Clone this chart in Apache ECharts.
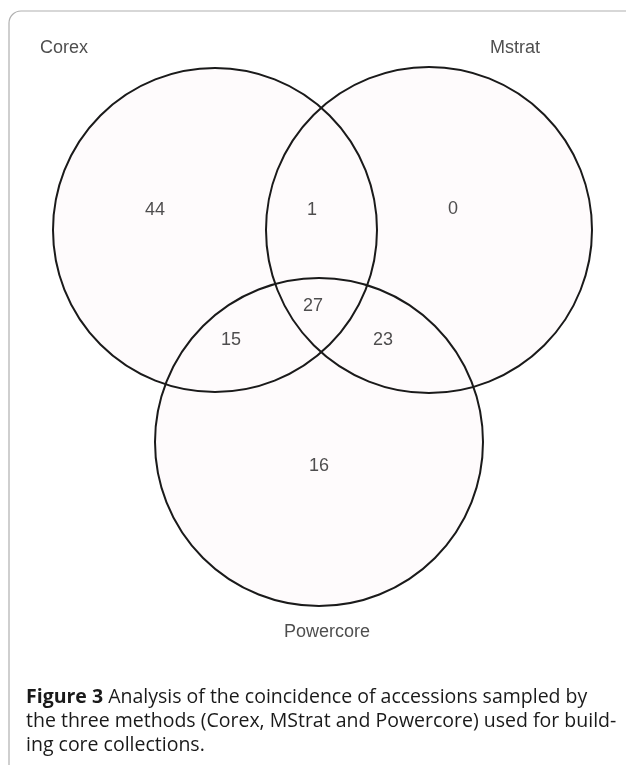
<!DOCTYPE html>
<html><head><meta charset="utf-8">
<script src="https://cdn.jsdelivr.net/npm/echarts@6/dist/echarts.min.js"></script>
<style>html,body{margin:0;padding:0;background:#fff}#c{width:626px;height:765px}</style>
</head><body><div id="c"></div>
<script>
// Set names and circle geometry (data units = diagram units)
const setNames = ['Corex', 'Mstrat', 'Powercore'];
const circleCx = [215, 429, 319];
const circleCy = [230, 230, 442];
const circleR = [162, 163, 164];
const setLabelPos = [[64, 48], [515, 48], [327, 632]];
// Region counts and where they are written
const regionCounts = [44, 1, 0, 27, 15, 23, 16];
const regionPos = [[155, 210], [312, 210], [453, 209], [313, 306], [231, 340], [383, 340], [319, 466]];

const chart = echarts.init(document.getElementById('c'), null, {renderer: 'canvas'});
const circles = setNames.map((n, i) => [circleCx[i], circleCy[i], circleR[i], n]);

function circleItem(fill, stroke) {
  return function (params, api) {
    const c = api.coord([api.value(0), api.value(1)]);
    const r = api.size([api.value(2), 0])[0];
    return {type: 'circle', shape: {cx: c[0], cy: c[1], r: r},
      style: {fill: fill, stroke: stroke, lineWidth: 2}};
  };
}

chart.setOption({
  animation: false,
  grid: {left: 0, right: 0, top: 0, bottom: 0},
  xAxis: {type: 'value', min: 0, max: 626, show: false},
  yAxis: {type: 'value', min: 0, max: 765, inverse: true, show: false},
  series: [
    {type: 'custom', data: circles, renderItem: circleItem('#fefbfc', null), z: 1},
    {type: 'custom', data: circles, renderItem: circleItem(null, '#1a1a1a'), z: 2},
    {type: 'scatter', symbolSize: 0, z: 3,
      data: regionCounts.map((v, i) => ({value: [regionPos[i][0], regionPos[i][1]], name: String(v)})),
      label: {show: true, position: 'inside', formatter: p => p.name, color: '#222',
        fontFamily: 'Liberation Sans', fontSize: 18}},
    {type: 'scatter', symbolSize: 0, z: 3,
      data: setNames.map((n, i) => ({value: setLabelPos[i], name: n})),
      label: {show: true, position: 'inside', formatter: p => p.name, color: '#222',
        fontFamily: 'Liberation Sans', fontSize: 18}}
  ],
  graphic: [
    {type: 'rect', z: 0, shape: {x: 9, y: 11, width: 640, height: 770, r: 12},
      style: {fill: null, stroke: '#b0b0b0', lineWidth: 1.2}},
    {type: 'text', z: 5, left: 26, top: 685,
      style: {
        text: '{b|Figure 3} Analysis of the coincidence of accessions sampled by\nthe three methods (Corex, MStrat and Powercore) used for build-\ning core collections.',
        fontFamily: 'Open Sans', fontSize: 19.5, lineHeight: 24, fill: '#1a1a1a',
        rich: {b: {fontWeight: 'bold', fontFamily: 'Open Sans', fontSize: 19.5, lineHeight: 24, fill: '#1a1a1a'}}
      }}
  ]
});
</script></body></html>
